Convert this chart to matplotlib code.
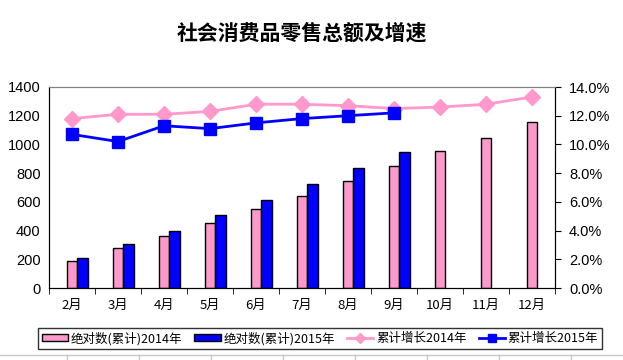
import numpy as np
import matplotlib
matplotlib.use("Agg")
import matplotlib.pyplot as plt
from matplotlib.lines import Line2D
from matplotlib.ticker import FuncFormatter

plt.rcParams['font.family'] = ['Noto Sans CJK SC', 'DejaVu Sans']

months = ['2月', '3月', '4月', '5月', '6月', '7月', '8月', '9月', '10月', '11月', '12月']
total_2014 = [185, 278, 361, 451, 548, 639, 743, 847, 953, 1048, 1159]
total_2015 = [206, 305, 396, 507, 611, 722, 833, 944]
growth_2014 = [11.8, 12.1, 12.1, 12.3, 12.8, 12.8, 12.7, 12.5, 12.6, 12.8, 13.3]
growth_2015 = [10.7, 10.2, 11.3, 11.1, 11.5, 11.8, 12.0, 12.2]

pink = '#FF99CC'
blue = '#0000FF'

fig = plt.figure(figsize=(6.23, 3.6), dpi=100)
ax = fig.add_axes([49 / 623, 1 - 288 / 360, (555 - 49) / 623, (288 - 87) / 360])
ax2 = ax.twinx()

x = np.arange(len(months))
w = 0.23
ax.bar(x, total_2014, w, color=pink, edgecolor='black', linewidth=1, label='绝对数(累计)2014年', zorder=2)
ax.bar(x[:len(total_2015)] + w, total_2015, w, color=blue, edgecolor='black', linewidth=1,
       label='绝对数(累计)2015年', zorder=2)

ax2.plot(x, growth_2014, color=pink, linewidth=2, marker='D', markersize=8,
         label='累计增长2014年')
ax2.plot(x[:len(growth_2015)], growth_2015, color=blue, linewidth=2, marker='s', markersize=8,
         label='累计增长2015年')

ax.set_xlim(-0.5, len(months) - 0.5)
ax.set_ylim(0, 1400)
ax.set_yticks(range(0, 1401, 200))
ax2.set_ylim(0, 14)
ax2.set_yticks(range(0, 15, 2))
ax2.yaxis.set_major_formatter(FuncFormatter(lambda v, p: '{:.1f}%'.format(v)))

ax.set_xticks(x)
ax.set_xticklabels(months, fontsize=9.5)
ax.set_xticks(np.arange(-0.5, len(months), 1), minor=True)
ax.tick_params(axis='x', which='major', length=0, pad=8)
ax.tick_params(axis='x', which='minor', length=4, direction='out', color='black')
ax.tick_params(axis='y', length=0, pad=6)
ax2.tick_params(axis='y', length=4, direction='out', pad=6)
for lab in ax.get_yticklabels() + ax2.get_yticklabels():
    lab.set_family('Liberation Sans')
    lab.set_fontsize(10.5)

for a in (ax, ax2):
    a.spines['top'].set_color('#808080')
    a.spines['left'].set_color('black')
    a.spines['right'].set_color('black')
    a.spines['bottom'].set_color('black')

fig.text(302 / 623, 1 - 33 / 360, '社会消费品零售总额及增速', ha='center', va='center',
         fontsize=15, fontweight='bold')

h1, l1 = ax.get_legend_handles_labels()
h2, l2 = ax2.get_legend_handles_labels()
leg = fig.legend(h1 + h2, l1 + l2, loc='center', bbox_to_anchor=(320 / 623, 1 - 338.5 / 360), ncol=4,
                 fontsize=9, frameon=True, fancybox=False, edgecolor='black', handlelength=2.1,
                 handleheight=0.45, handletextpad=0.2, columnspacing=1.0, borderpad=0.3,
                 borderaxespad=0, markerscale=0.7)
leg.get_frame().set_linewidth(1)

# faint spreadsheet grid peeking around the chart
fig.add_artist(Line2D([0, 1], [1 - 355 / 360, 1 - 355 / 360], color='#C8C8C8', linewidth=1))
for xp in [67, 139, 211, 283, 355, 427, 499, 571]:
    fig.add_artist(Line2D([xp / 623, xp / 623], [0, 1 - 355 / 360], color='#C8C8C8', linewidth=1))

fig.savefig('out.png', dpi=100)
